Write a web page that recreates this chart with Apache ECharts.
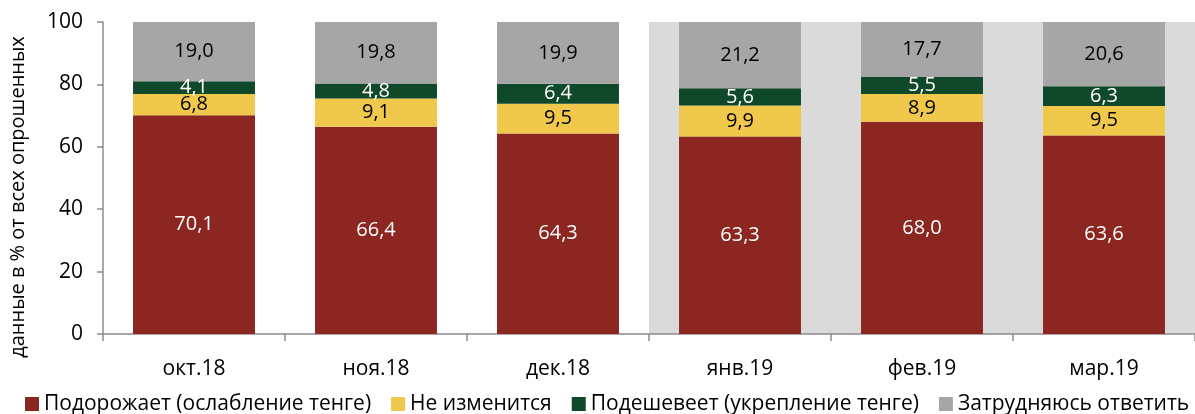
<!DOCTYPE html>
<html>
<head>
<meta charset="utf-8">
<script src="https://cdn.jsdelivr.net/npm/echarts@6/dist/echarts.min.js"></script>
<style>
  html, body { margin: 0; padding: 0; background: #fff; }
  #chart { width: 1195px; height: 414px; }
</style>
</head>
<body>
<div id="chart"></div>
<script>
// Months of the survey
const categories = ['окт.18', 'ноя.18', 'дек.18', 'янв.19', 'фев.19', 'мар.19'];

// Share of respondents, % (stacked bottom to top)
const riseValues   = [70.1, 66.4, 64.3, 63.3, 68.0, 63.6]; // Подорожает
const sameValues   = [6.8, 9.1, 9.5, 9.9, 8.9, 9.5];       // Не изменится
const fallValues   = [4.1, 4.8, 6.4, 5.6, 5.5, 6.3];       // Подешевеет
const unsureValues = [19.0, 19.8, 19.9, 21.2, 17.7, 20.6]; // Затрудняюсь ответить

const seriesNames = [
  'Подорожает (ослабление тенге)',
  'Не изменится',
  'Подешевеет (укрепление тенге)',
  'Затрудняюсь ответить'
];

const yAxisTitle = 'данные в % от всех опрошенных';

const FONT = '"Open Sans", "Noto Sans", sans-serif';

function fmt(p) {
  return p.value.toFixed(1).replace('.', ',');
}

function makeSeries(name, data, color, labelColor) {
  return {
    name: name,
    type: 'bar',
    stack: 'total',
    data: data,
    barCategoryGap: '33%',
    itemStyle: { color: color },
    label: {
      show: true,
      position: 'inside',
      formatter: fmt,
      color: labelColor,
      fontFamily: FONT,
      fontSize: 20
    },
    emphasis: { disabled: true }
  };
}

const chart = echarts.init(document.getElementById('chart'), null, { renderer: 'canvas' });

chart.setOption({
  animation: false,
  grid: { left: 102, right: 0, top: 22, bottom: 80, containLabel: false },
  legend: {
    top: 393,
    left: 25,
    width: 1170,
    padding: 0,
    itemWidth: 14,
    itemHeight: 14,
    itemGap: 20,
    icon: 'rect',
    textStyle: { fontFamily: FONT, fontSize: 21, lineHeight: 22, color: '#000' },
    data: seriesNames
  },
  xAxis: {
    type: 'category',
    data: categories,
    axisLine: { lineStyle: { color: '#8c8c8c', width: 1.5 } },
    axisTick: { show: true, length: 7, alignWithLabel: false, lineStyle: { color: '#8c8c8c', width: 1.5 } },
    axisLabel: { color: '#000', fontFamily: FONT, fontSize: 21, margin: 25 },
    splitArea: {
      show: true,
      areaStyle: { color: ['rgba(0,0,0,0)', 'rgba(0,0,0,0)', 'rgba(0,0,0,0)', '#dadada', '#dadada', '#dadada'] }
    }
  },
  yAxis: {
    type: 'value',
    min: 0,
    max: 100,
    interval: 20,
    name: yAxisTitle,
    nameLocation: 'middle',
    nameGap: 75,
    nameTextStyle: { fontFamily: FONT, fontSize: 20, color: '#000', padding: [0, 38, 0, 0] },
    axisLine: { show: true, lineStyle: { color: '#8c8c8c', width: 1.5 } },
    axisTick: { show: true, length: 6, lineStyle: { color: '#8c8c8c', width: 1.5 } },
    axisLabel: { color: '#000', fontFamily: FONT, fontSize: 21, margin: 20 },
    splitLine: { show: false }
  },
  series: [
    makeSeries(seriesNames[0], riseValues, '#8b2621', '#fff'),
    makeSeries(seriesNames[1], sameValues, '#f0c84c', '#000'),
    makeSeries(seriesNames[2], fallValues, '#10482a', '#fff'),
    makeSeries(seriesNames[3], unsureValues, '#a6a6a6', '#000')
  ]
});
</script>
</body>
</html>
